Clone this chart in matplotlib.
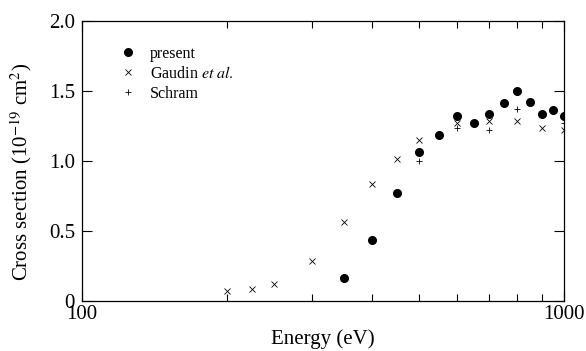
import matplotlib
matplotlib.use("Agg")
import matplotlib.pyplot as plt
from matplotlib.ticker import FixedLocator, NullFormatter, FixedFormatter

plt.rcParams['font.family'] = ['Liberation Serif', 'DejaVu Serif']
plt.rcParams['mathtext.fontset'] = 'stix'

# Measured cross sections (units of 1e-19 cm^2)
present_E = [350, 400, 450, 500, 550, 600, 650, 700, 750, 800, 850, 900, 950, 1000]
present_s = [0.16, 0.43, 0.77, 1.06, 1.18, 1.32, 1.27, 1.33, 1.41, 1.50, 1.42, 1.33, 1.36, 1.32]

gaudin_E = [200, 225, 250, 300, 350, 400, 450, 500, 600, 700, 800, 900, 1000]
gaudin_s = [0.07, 0.08, 0.12, 0.28, 0.56, 0.83, 1.01, 1.15, 1.27, 1.28, 1.28, 1.23, 1.22]

schram_E = [500, 600, 700, 800, 1000]
schram_s = [1.00, 1.23, 1.22, 1.37, 1.27]

y_ticks = [0, 0.5, 1.0, 1.5, 2.0]
y_labels = ["0", "0.5", "1.0", "1.5", "2.0"]
x_labels = ["100", "1000"]

fig = plt.figure(figsize=(5.86, 3.51), dpi=100)
ax = fig.add_axes([82 / 586, 1 - 300.5 / 351, (564 - 82) / 586, (300.5 - 20.5) / 351])

ax.plot(present_E, present_s, 'o', color='black', markersize=5.5, label='present', zorder=3)
ax.plot(gaudin_E, gaudin_s, 'x', color='black', markersize=5, markeredgewidth=0.6,
        label='Gaudin $\\it{et\\ al.}$')
ax.plot(schram_E, schram_s, '+', color='black', markersize=5, markeredgewidth=0.6, label='Schram')

ax.set_xscale('log')
ax.set_xlim(100, 1000)
ax.set_ylim(0, 2.0)

ax.xaxis.set_major_locator(FixedLocator([100, 1000]))
ax.xaxis.set_major_formatter(FixedFormatter(x_labels))
ax.xaxis.set_minor_locator(FixedLocator([200, 300, 400, 500, 600, 700, 800, 900]))
ax.xaxis.set_minor_formatter(NullFormatter())
ax.set_yticks(y_ticks)
ax.set_yticklabels(y_labels)

ax.tick_params(which='both', direction='in', top=True, right=True, labelsize=15, width=0.8)
ax.tick_params(which='major', length=7)
ax.tick_params(which='minor', length=5)
ax.tick_params(axis='x', which='major', pad=3)
ax.tick_params(axis='y', which='major', pad=5)

for s in ax.spines.values():
    s.set_linewidth(0.9)

ax.set_xlabel('Energy (eV)', fontsize=15, labelpad=4)
ax.set_ylabel('Cross section (10$^{-19}$ cm$^{2}$)', fontsize=15)
ax.yaxis.set_label_coords(-0.099, 0.46)

leg = ax.legend(loc='upper left', bbox_to_anchor=(0.065, 0.932), frameon=False, fontsize=11.5,
                handlelength=1.0, handletextpad=0.9, labelspacing=0.25, borderaxespad=0)

fig.savefig('out.png', dpi=100)
